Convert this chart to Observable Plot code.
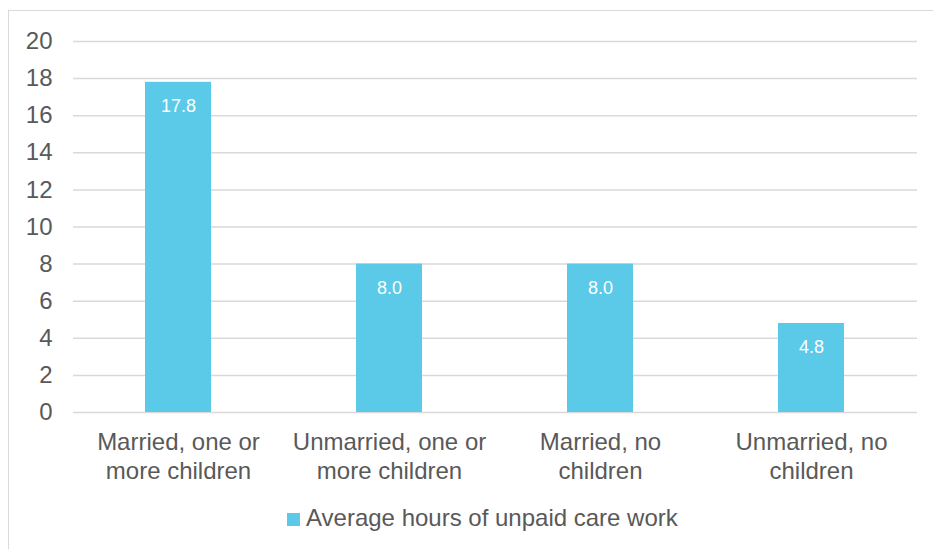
<!DOCTYPE html>
<html>
<head>
<meta charset="utf-8">
<script src="https://cdn.jsdelivr.net/npm/d3@7"></script>
<script src="https://cdn.jsdelivr.net/npm/@observablehq/plot@0.6"></script>
<style>
  html, body { margin: 0; padding: 0; background: #fff; overflow: hidden; width: 933px; height: 549px; }
  body { position: relative; font-family: "Liberation Sans", Arial, sans-serif; color: #595959; }
  #frame { position: absolute; left: 8px; top: 10px; width: 960px; height: 580px; border: 1.5px solid #d9d9d9; box-sizing: border-box; }
  #chart { position: absolute; left: 0; top: 0; }
  #legend { position: absolute; left: 287px; top: 504px; display: flex; align-items: center; font-size: 24px; color: #595959; white-space: nowrap; }
  #legend .sw { width: 13px; height: 13px; background: #5BC9E8; margin-right: 6px; margin-top: 2px; }
</style>
</head>
<body>
<div id="frame"></div>
<div id="chart"></div>
<div id="legend"><span class="sw"></span><span id="legendText"></span></div>
<script>
const categories = ["Married, one or\nmore children", "Unmarried, one or\nmore children", "Married, no\nchildren", "Unmarried, no\nchildren"];
const values = [17.8, 8.0, 8.0, 4.8];
const yTicks = [0, 2, 4, 6, 8, 10, 12, 14, 16, 18, 20];
const seriesName = "Average hours of unpaid care work";

const data = categories.map((c, i) => ({category: c, value: values[i]}));
document.getElementById("legendText").textContent = seriesName;

const textColor = "#595959";
const chart = Plot.plot({
  width: 933,
  height: 500,
  marginLeft: 73,
  marginRight: 16,
  marginTop: 41,
  marginBottom: 88,
  style: {fontFamily: "'Liberation Sans', Arial, sans-serif", background: "transparent", color: textColor},
  x: {domain: categories, paddingInner: 0.687, paddingOuter: 0.3435, label: null},
  y: {domain: [0, 20], label: null},
  marks: [
    Plot.ruleY(yTicks, {stroke: "#d9d9d9", strokeWidth: 1.5}),
    Plot.barY(data, {x: "category", y: "value", fill: "#5BC9E8"}),
    Plot.text(data, {x: "category", y: "value", text: d => d.value.toFixed(1), fill: "#ffffff", fontSize: 18, dy: 24}),
    Plot.axisY({ticks: yTicks, tickSize: 0, tickPadding: 21, fontSize: 24, fill: textColor, label: null}),
    Plot.axisX({tickSize: 0, tickPadding: 18, fontSize: 24, fill: textColor, lineHeight: 1.17, label: null})
  ]
});
document.getElementById("chart").appendChild(chart);
</script>
</body>
</html>
